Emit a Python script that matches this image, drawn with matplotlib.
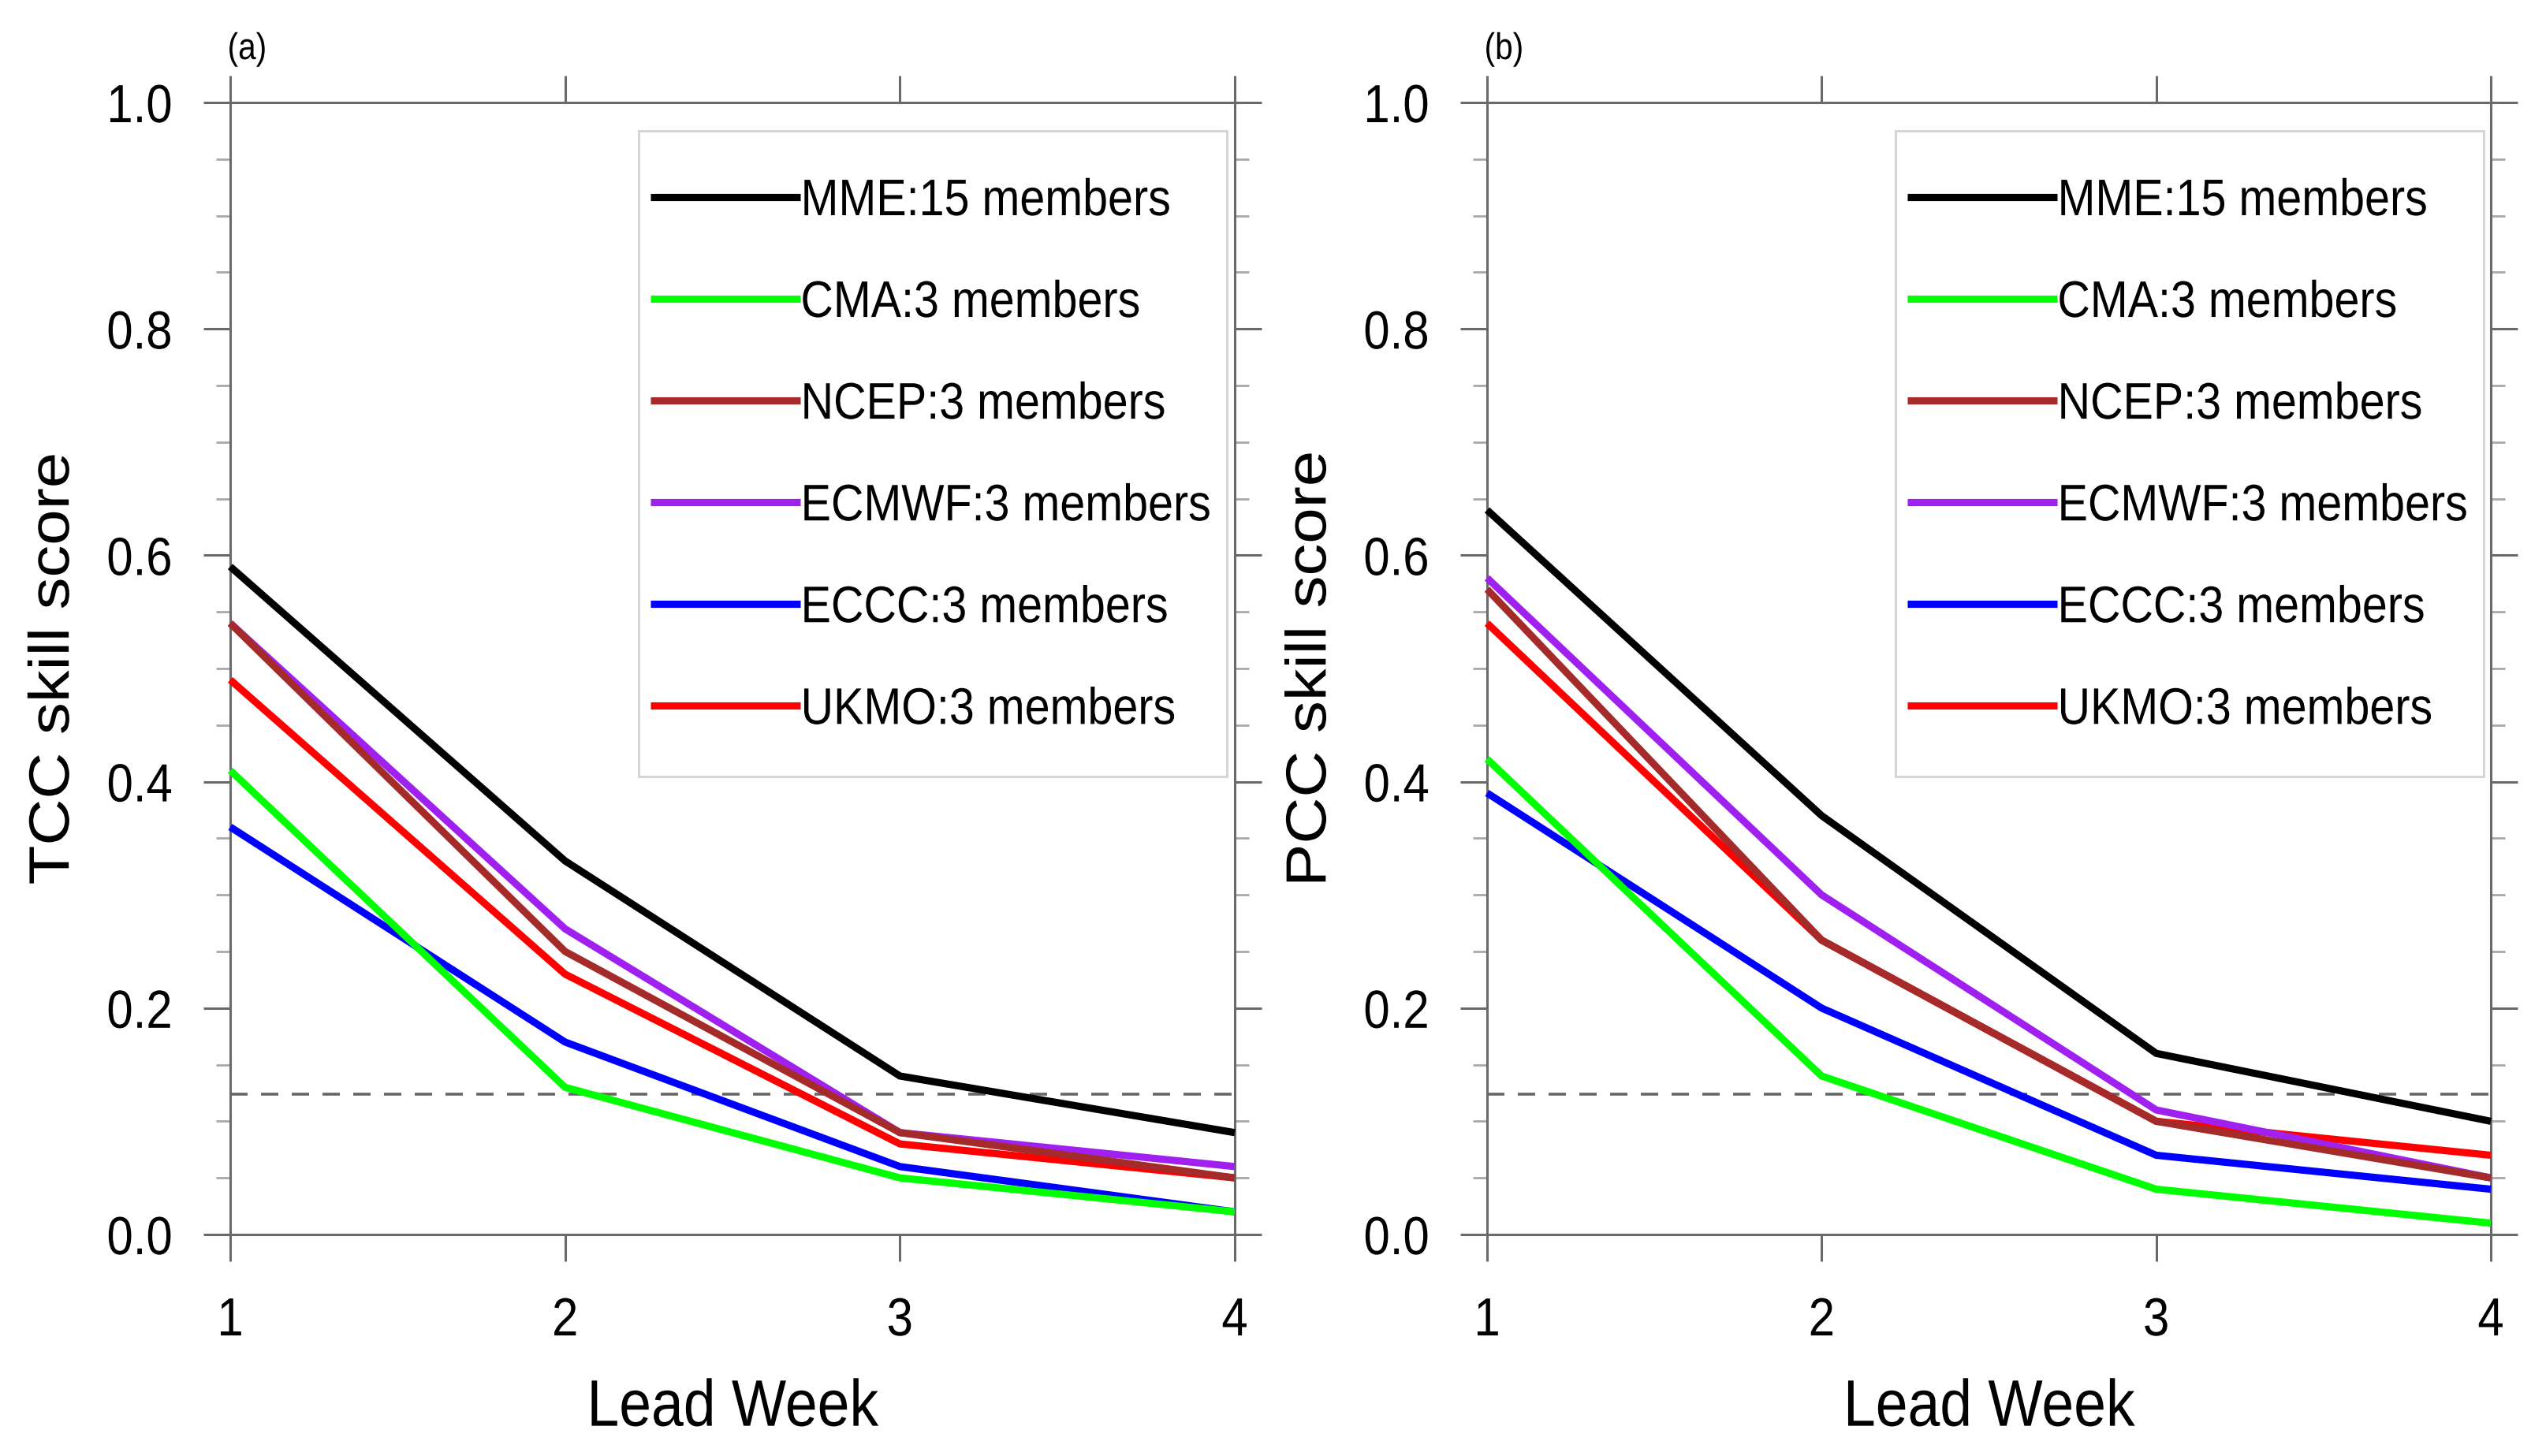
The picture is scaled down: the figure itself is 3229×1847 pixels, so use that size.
import matplotlib
matplotlib.use("Agg")
import matplotlib.pyplot as plt
from matplotlib.ticker import MultipleLocator, FixedLocator, FormatStrFormatter
from matplotlib.patheffects import AbstractPathEffect
from matplotlib.transforms import Affine2D
from matplotlib.path import Path

# ---------------- data ----------------
weeks = [1, 2, 3, 4]
labels = ["MME:15 members", "CMA:3 members", "NCEP:3 members",
          "ECMWF:3 members", "ECCC:3 members", "UKMO:3 members"]
colors = ["#000000", "#00ff00", "#a52a2a", "#a020f0", "#0000ff", "#ff0000"]

tcc_mme = [0.59, 0.33, 0.14, 0.09]
tcc_cma = [0.41, 0.13, 0.05, 0.02]
tcc_ncep = [0.54, 0.25, 0.09, 0.05]
tcc_ecmwf = [0.54, 0.27, 0.09, 0.06]
tcc_eccc = [0.36, 0.17, 0.06, 0.02]
tcc_ukmo = [0.49, 0.23, 0.08, 0.05]

pcc_mme = [0.64, 0.37, 0.16, 0.10]
pcc_cma = [0.42, 0.14, 0.04, 0.01]
pcc_ncep = [0.57, 0.26, 0.10, 0.05]
pcc_ecmwf = [0.58, 0.30, 0.11, 0.05]
pcc_eccc = [0.39, 0.20, 0.07, 0.04]
pcc_ukmo = [0.54, 0.26, 0.10, 0.07]

threshold = 0.124
panel_tags = ["(a)", "(b)"]
ylabels = ["TCC skill score", "PCC skill score"]
xlabel = "Lead Week"
ytick_vals = [0.0, 0.2, 0.4, 0.6, 0.8, 1.0]

tcc = [tcc_mme, tcc_cma, tcc_ncep, tcc_ecmwf, tcc_eccc, tcc_ukmo]
pcc = [pcc_mme, pcc_cma, pcc_ncep, pcc_ecmwf, pcc_eccc, pcc_ukmo]


# ---------------- helpers ----------------
class Squeeze(AbstractPathEffect):
    """Scale glyphs horizontally (condensed / expanded look)."""
    def __init__(self, sx, anchor=0.0):
        super().__init__()
        self.sx = sx
        self.anchor = anchor

    def draw_path(self, renderer, gc, tpath, affine, rgbFace=None):
        ext = tpath.get_extents()
        a = ext.x0 + self.anchor * (ext.x1 - ext.x0)
        t = Affine2D().translate(-a, 0).scale(self.sx, 1).translate(a, 0) + affine
        renderer.draw_path(gc, tpath, t, rgbFace)


def legend_box(box_width, extra_top, extra_bottom):
    def box(x0, y0, width, height, mutation_size):
        x1 = x0 + box_width
        yb = y0 - extra_bottom
        yt = y0 + height + extra_top
        return Path([(x0, yb), (x1, yb), (x1, yt), (x0, yt), (x0, yb)],
                    closed=True)
    return box


# ---------------- style ----------------
font = ["Liberation Sans", "DejaVu Sans"]
SX = 0.88
spine_col = "#6a6a6a"
minor_col = "#a8a8a8"

fig = plt.figure(figsize=(16.15, 9.235), dpi=200)
positions = [[0.09040, 0.15214, 0.39443, 0.77748],
             [0.58390, 0.15214, 0.39412, 0.77748]]
legend_anchor = [(0.4066, 0.9436), (0.4069, 0.9436)]

for p, (pos, data) in enumerate(zip(positions, [tcc, pcc])):
    ax = fig.add_axes(pos)
    handles = [None] * len(labels)
    for i in reversed(range(len(labels))):
        ln, = ax.plot(weeks, data[i], color=colors[i], lw=3.3,
                      solid_capstyle="butt", solid_joinstyle="miter",
                      clip_on=False, zorder=3 + (len(labels) - i) * 0.01)
        handles[i] = ln
    ax.axhline(threshold, color="#666666", lw=1.3, ls=(0, (6.1, 4.7)),
               zorder=2)

    ax.set_xlim(1, 4)
    ax.set_ylim(0, 1)
    ax.xaxis.set_major_locator(FixedLocator(weeks))
    ax.yaxis.set_major_locator(FixedLocator(ytick_vals))
    ax.yaxis.set_minor_locator(MultipleLocator(0.05))
    ax.yaxis.set_major_formatter(FormatStrFormatter("%.1f"))

    for s in ax.spines.values():
        s.set_color(spine_col)
        s.set_linewidth(1.1)
    ax.tick_params(which="major", direction="out", length=12.3, width=1.1,
                   color=spine_col, top=True, right=True)
    ax.tick_params(which="minor", direction="out", length=6.5, width=1.0,
                   color=minor_col, left=True, right=True)
    ax.tick_params(axis="y", which="major", pad=14)
    ax.tick_params(axis="x", which="major", pad=15.8)
    for t in ax.get_xticklabels():
        t.set_family(font)
        t.set_fontsize(24.5)
        t.set_path_effects([Squeeze(SX, 0.5)])
    for t in ax.get_yticklabels():
        t.set_family(font)
        t.set_fontsize(24.5)
        t.set_path_effects([Squeeze(SX, 1.0)])

    xl = ax.set_xlabel(xlabel, fontsize=30, family=font)
    xl.set_path_effects([Squeeze(SX, 0.5)])
    ax.xaxis.set_label_coords(0.5, -0.1265)
    yl = ax.set_ylabel(ylabels[p], fontsize=26, family=font)
    yl.set_path_effects([Squeeze(1.13, 0.5)])
    ax.yaxis.set_label_coords(-0.149, 0.5)

    tg = ax.text(-0.003, 1.0383, panel_tags[p], transform=ax.transAxes,
                 fontsize=17, family=font, ha="left", va="baseline")
    tg.set_path_effects([Squeeze(0.86, 0.0)])

    leg = ax.legend(handles, labels, loc="upper left",
                    bbox_to_anchor=legend_anchor[p], borderaxespad=0,
                    handlelength=2.91, handletextpad=0.0,
                    labelspacing=1.058, borderpad=0.23, frameon=True,
                    fancybox=False, prop={"family": font, "size": 23.5})
    frame = leg.get_frame()
    frame.set_edgecolor("#cccccc")
    frame.set_linewidth(1.1)
    frame.set_boxstyle(legend_box(746, 45, 39))
    for t in leg.get_texts():
        t.set_path_effects([Squeeze(SX, 0.0)])

fig.savefig("out.png", dpi=200)
